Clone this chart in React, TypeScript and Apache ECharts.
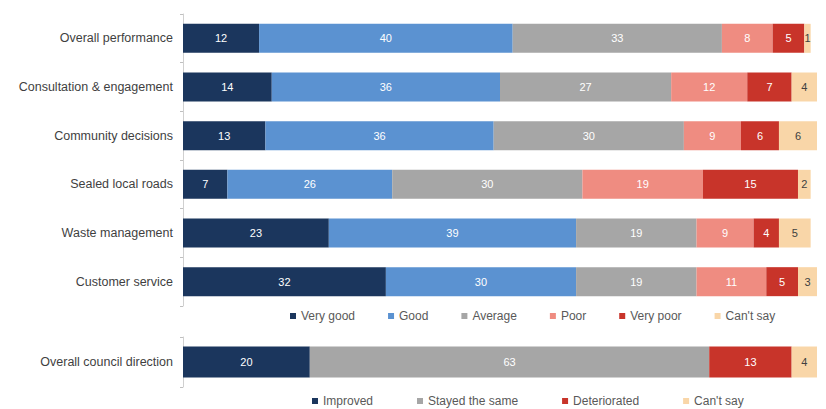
import React, { useEffect, useRef } from "react";
import * as echarts from "echarts";

const categories = [
  "Overall performance",
  "Consultation & engagement",
  "Community decisions",
  "Sealed local roads",
  "Waste management",
  "Customer service",
];
const veryGood = [12, 14, 13, 7, 23, 32];
const good = [40, 36, 36, 26, 39, 30];
const average = [33, 27, 30, 30, 19, 19];
const poor = [8, 12, 9, 19, 9, 11];
const veryPoor = [5, 7, 6, 15, 4, 5];
const cantSay = [1, 4, 6, 2, 5, 3];

const directionCategories = ["Overall council direction"];
const improved = [20];
const stayed = [63];
const deteriorated = [13];
const directionCantSay = [4];

const ratingNames = ["Very good", "Good", "Average", "Poor", "Very poor", "Can't say"];
const directionNames = ["Improved", "Stayed the same", "Deteriorated", "Can't say"];

const NAVY = "#1b365d";
const BLUE = "#5b92d1";
const GREY = "#a6a6a6";
const SALMON = "#ef8c81";
const RED = "#c8342a";
const PEACH = "#f9d6a8";

export default function App() {
  const ref = useRef<HTMLDivElement>(null);
  useEffect(() => {
    if (!ref.current) return;
    const chart = echarts.init(ref.current, null, { renderer: "svg" });
    const font = "Liberation Sans, Arial, sans-serif";
    const mk = (
      name: string,
      data: number[],
      color: string,
      idx: number,
      stack: string,
      labelColor = "#ffffff",
      barWidth = 29
    ) => ({
      type: "bar",
      name,
      data,
      stack,
      xAxisIndex: idx,
      yAxisIndex: idx,
      barWidth,
      itemStyle: { color },
      label: {
        show: true,
        position: "inside",
        color: labelColor,
        fontSize: 11,
        fontFamily: font,
      },
      emphasis: { disabled: true },
    });
    const axisLabel = {
      color: "#3f3f3f",
      fontSize: 12.5,
      fontFamily: font,
      margin: 10,
    };
    chart.setOption({
      animation: false,
      backgroundColor: "#ffffff",
      grid: [
        { left: 183, width: 634, top: 14, height: 292 },
        { left: 183, width: 634, top: 337, height: 50 },
      ],
      xAxis: [
        { type: "value", gridIndex: 0, min: 0, max: 100, show: false },
        { type: "value", gridIndex: 1, min: 0, max: 100, show: false },
      ],
      yAxis: [
        {
          type: "category",
          gridIndex: 0,
          data: categories,
          inverse: true,
          axisLine: { show: true, lineStyle: { color: "#d0d0d0" } },
          axisTick: { show: true, length: 3, lineStyle: { color: "#c0c0c0" } },
          axisLabel,
        },
        {
          type: "category",
          gridIndex: 1,
          data: directionCategories,
          inverse: true,
          axisLine: { show: true, lineStyle: { color: "#d0d0d0" } },
          axisTick: { show: true, length: 3, lineStyle: { color: "#c0c0c0" } },
          axisLabel,
        },
      ],
      legend: [
        {
          data: ratingNames,
          left: 285,
          top: 305,
          itemWidth: 6,
          itemHeight: 6,
          itemGap: 33,
          icon: "rect",
          selectedMode: false,
          textStyle: { color: "#595959", fontSize: 12, fontFamily: font },
        },
        {
          data: directionNames,
          left: 307,
          top: 393,
          itemWidth: 6,
          itemHeight: 6,
          itemGap: 44,
          icon: "rect",
          selectedMode: false,
          padding: [2, 5, 2, 5],
          textStyle: { color: "#595959", fontSize: 12, fontFamily: font },
        },
      ],
      series: [
        mk("Very good", veryGood, NAVY, 0, "r"),
        mk("Good", good, BLUE, 0, "r"),
        mk("Average", average, GREY, 0, "r"),
        mk("Poor", poor, SALMON, 0, "r"),
        mk("Very poor", veryPoor, RED, 0, "r"),
        mk("Can't say", cantSay, PEACH, 0, "r", "#404040"),
        mk("Improved", improved, NAVY, 1, "d", "#ffffff", 31),
        mk("Stayed the same", stayed, GREY, 1, "d", "#ffffff", 31),
        mk("Deteriorated", deteriorated, RED, 1, "d", "#ffffff", 31),
        mk("Can't say", directionCantSay, PEACH, 1, "d", "#404040", 31),
      ],
    });
    return () => chart.dispose();
  }, []);
  return (
    <div
      ref={ref}
      style={{ position: "fixed", left: 0, top: 0, width: 826, height: 409 }}
    />
  );
}
